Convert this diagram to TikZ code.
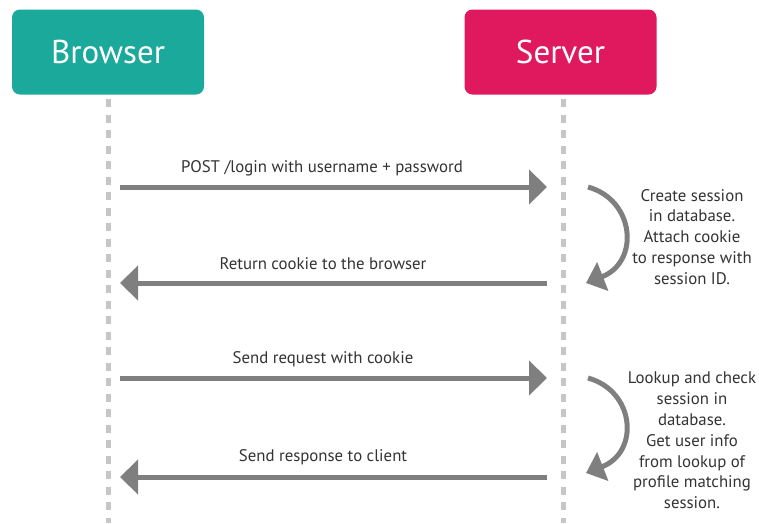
\documentclass[tikz,border=0pt]{standalone}
\usepackage{fontspec}
\setmainfont{PT Sans}
\usetikzlibrary{arrows.meta}
\definecolor{browserteal}{HTML}{1BA99B}
\definecolor{serverpink}{HTML}{E0195F}
\definecolor{msggray}{HTML}{7F7F7F}
\definecolor{lifegray}{HTML}{C6C6C6}
\definecolor{textgray}{HTML}{333333}
\tikzset{
  actor/.style={rounded corners=8pt, minimum width=192pt, minimum height=85pt,
    text=white, font=\fontsize{33}{38}\selectfont, inner sep=0pt},
  lifeline/.style={lifegray, line width=5pt, dash pattern=on 8pt off 7.5pt},
  msg/.style={msggray, line width=5pt, -{Triangle[length=18pt,width=34pt]}},
  loopback/.style={msggray, line width=5pt, -{Triangle[length=18pt,width=30pt]}},
  msglabel/.style={text=textgray, font=\fontsize{16.8}{20}\selectfont, inner sep=0pt},
  note/.style={text=textgray, font=\fontsize{16.8}{20.8}\selectfont, align=center, inner sep=0pt}
}
\begin{document}
\begin{tikzpicture}[x=1pt, y=-1pt]
  \useasboundingbox (0,0) rectangle (759,523);
  % participants
  \node[actor, fill=browserteal] (browser) at (108,52) {Browser};
  \node[actor, fill=serverpink] (server) at (560.5,52) {Server};
  % lifelines
  \coordinate (bt) at (108,99);   \coordinate (bb) at (108,523);
  \coordinate (st) at (563,99);   \coordinate (sb) at (563,523);
  \draw[lifeline] (bt) -- (bb);
  \draw[lifeline] (st) -- (sb);
  % message end points
  \coordinate (m1a) at (120,187); \coordinate (m1b) at (547,187);
  \coordinate (m2a) at (547,283); \coordinate (m2b) at (120,283);
  \coordinate (m3a) at (120,378); \coordinate (m3b) at (547,378);
  \coordinate (m4a) at (547,477); \coordinate (m4b) at (120,477);
  \draw[msg] (m1a) -- (m1b);
  \draw[msg] (m2a) -- (m2b);
  \draw[msg] (m3a) -- (m3b);
  \draw[msg] (m4a) -- (m4b);
  % message labels
  \node[msglabel] (l1) at (322,168) {POST /login with username + password};
  \node[msglabel] (l2) at (323,264) {Return cookie to the browser};
  \node[msglabel] (l3) at (323,359) {Send request with cookie};
  \node[msglabel] (l4) at (323,457) {Send response to client};
  % server-side processing
  \coordinate (c1a) at (588,187); \coordinate (c1b) at (586,283);
  \coordinate (c2a) at (588,378); \coordinate (c2b) at (586,473);
  \draw[loopback] (c1a) .. controls (635,200) and (640,262) .. (c1b);
  \draw[loopback] (c2a) .. controls (635,391) and (640,452) .. (c2b);
  \node[note, anchor=north] (n1) at (692,189)
    {Create session\\in database.\\Attach cookie\\to response with\\session ID.};
  \node[note, anchor=north] (n2) at (692,372)
    {Lookup and check\\session in\\database.\\Get user info\\from lookup of\\profile matching\\session.};
\end{tikzpicture}
\end{document}
